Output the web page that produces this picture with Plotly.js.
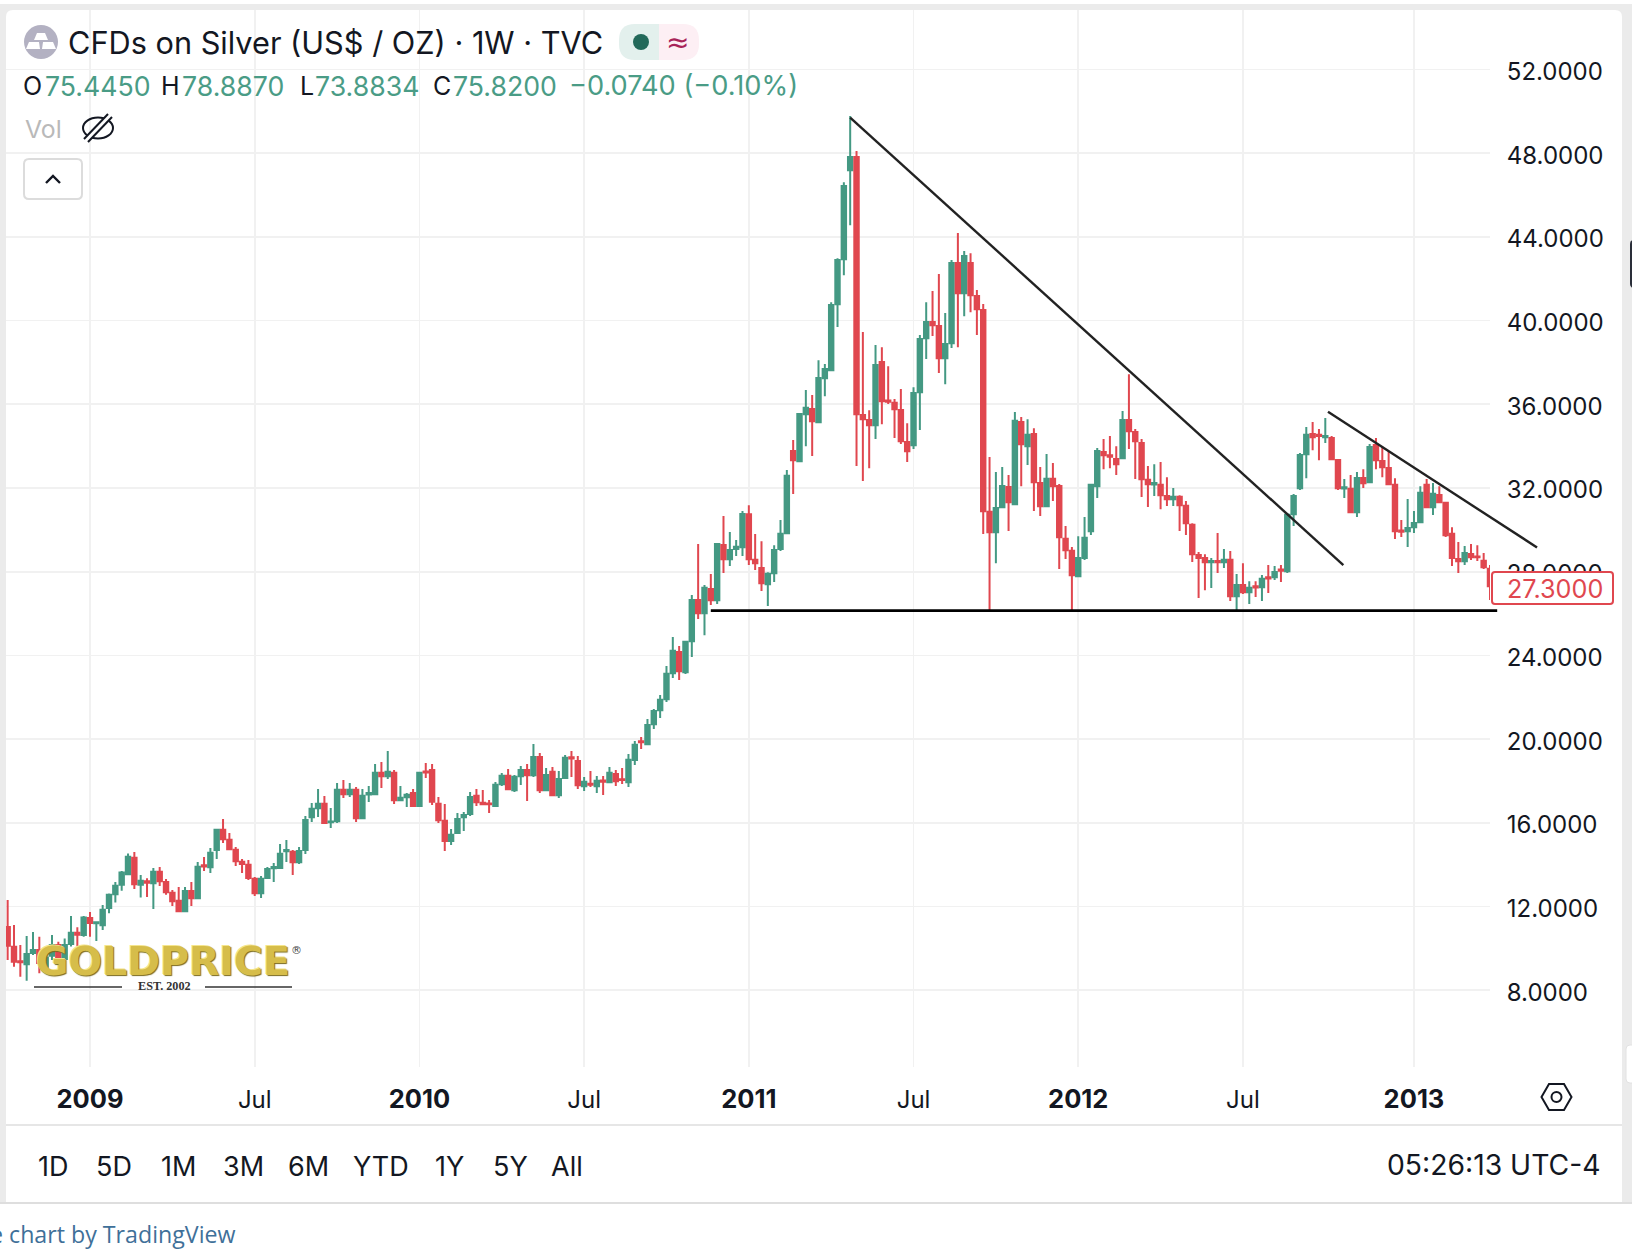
<!DOCTYPE html>
<html>
<head>
<meta charset="utf-8">
<title>CFDs on Silver</title>
<script src="https://cdn.plot.ly/plotly-3.0.1.min.js"></script>
<style>html,body{margin:0;padding:0;background:#fff;overflow:hidden}#chart{width:1632px;height:1260px}</style>
</head>
<body>
<div id="chart"></div>
<script>
// Weekly candles, first week starting 2008-10-06
const firstWeek = '2008-10-06';
const open = [
11.03,10.08,9.39,9.25,9.78,9.92,9.09,9.65,10.17,9.49,
10.21,10.75,10.64,11.45,11.20,11.11,11.93,12.59,13.04,13.55,
14.33,13.04,13.21,13.12,13.66,13.18,12.66,12.28,11.78,12.75,
12.40,13.97,13.88,14.70,15.67,15.19,14.71,14.14,14.00,13.33,
12.64,13.36,13.83,13.84,14.64,14.62,14.12,14.70,16.27,16.70,
16.91,16.03,16.08,17.58,17.37,17.58,16.22,17.36,17.37,18.39,
18.23,18.39,17.08,17.23,17.43,16.80,
18.46,18.53,16.91,16.10,15.13,15.51,16.27,16.42,17.29,16.96,
16.93,16.80,17.85,18.25,17.56,18.23,18.53,18.28,19.15,17.56,
18.44,17.32,18.14,19.13,18.96,17.75,17.87,17.75,18.02,17.94,
18.34,18.08,17.94,19.00,19.90,19.76,20.71,21.38,21.91,23.15,
24.17,23.20,24.68,26.65,26.02,27.18,26.64,29.28,28.60,29.08,
29.17,30.75,28.57,28.18,27.40,27.93,29.08,29.84,33.77,33.28,
35.52,35.78,35.14,37.24,37.63,40.78,42.93,47.18,47.82,35.49,
35.25,35.00,38.02,36.18,36.07,35.73,34.20,34.04,36.58,39.15,
39.93,39.74,38.20,38.92,42.75,41.30,42.75,41.18,40.51,30.86,
29.89,31.08,32.05,31.22,35.16,34.00,34.58,32.24,31.13,32.44,
32.10,29.57,29.00,27.78,28.65,29.93,32.08,33.72,33.56,33.39,
33.42,35.25,34.68,34.15,32.39,32.17,32.15,31.62,31.46,31.58,
31.15,30.24,28.80,28.66,28.45,28.51,28.45,28.57,26.83,27.37,
27.02,27.30,27.26,27.73,27.74,28.11,28.02,30.75,31.99,33.61,
34.58,34.54,34.42,34.39,33.34,31.98,31.96,30.84,32.48,32.28,
34.06,33.29,32.96,32.15,29.97,29.93,30.13,30.36,32.15,31.08,
31.67,31.29,29.81,28.61,28.50,28.85,28.73,28.52,28.14];
const high = [
12.32,11.12,10.17,10.60,10.79,10.56,9.77,10.64,10.32,10.48,
11.55,11.01,11.55,11.74,11.27,12.08,12.63,13.18,13.70,14.54,
14.61,13.51,13.35,13.84,13.89,13.32,12.79,12.94,12.94,13.18,
14.13,14.37,14.80,15.71,16.18,15.52,14.85,14.27,14.23,13.41,
13.46,13.89,14.08,14.99,15.18,14.70,14.85,16.33,16.95,17.62,
17.28,16.71,17.90,18.05,17.90,17.71,17.62,17.76,18.81,18.91,
19.43,18.53,17.76,17.43,17.62,18.43,
18.86,18.81,17.24,16.90,15.71,16.47,16.52,17.47,17.62,17.57,
17.09,17.95,18.38,18.57,18.29,18.72,18.81,19.77,19.34,18.62,
18.67,18.48,19.24,19.43,19.19,18.19,18.48,18.24,18.24,18.67,
18.53,18.62,19.29,19.91,20.10,20.96,21.44,22.11,23.49,24.88,
24.45,24.69,26.89,29.32,27.36,27.89,29.37,30.66,29.90,29.51,
30.90,31.18,29.80,29.46,27.98,29.27,30.47,32.86,34.29,35.58,
36.68,36.44,38.11,37.92,40.88,42.98,46.61,49.77,48.10,39.45,
35.72,38.83,38.73,37.82,36.25,36.73,35.10,36.82,39.31,40.88,
41.41,42.22,40.36,42.89,44.18,43.32,43.22,41.46,40.79,33.48,
32.76,33.00,32.62,35.63,35.39,35.29,34.86,33.00,33.62,33.19,
32.19,30.18,29.18,29.70,30.61,32.19,33.91,34.34,34.48,34.00,
35.68,37.44,34.82,34.34,33.05,33.14,33.24,32.52,32.00,31.66,
31.38,30.32,28.94,28.84,28.65,29.85,29.08,28.99,27.89,28.41,
27.55,27.55,27.84,28.32,28.27,28.32,30.80,31.71,33.67,34.91,
35.15,34.82,35.34,34.48,33.36,32.43,32.62,32.76,32.90,34.10,
34.39,33.97,33.76,32.47,30.47,31.47,30.90,32.09,32.43,32.24,
32.09,31.33,30.13,29.42,29.23,29.32,29.27,28.89,28.32];
const low = [
9.45,9.13,8.65,8.46,9.69,8.81,8.97,9.45,9.37,9.37,
10.09,10.12,10.56,10.56,10.36,10.88,11.68,12.19,12.76,13.51,
12.84,12.43,12.46,11.89,12.98,12.57,12.03,11.74,11.74,12.03,
12.36,13.70,13.61,14.27,15.04,14.70,13.94,13.61,13.27,12.51,
12.41,13.32,13.18,13.80,14.13,13.51,14.04,14.51,16.04,16.28,
15.95,15.75,15.99,17.19,17.24,16.04,16.18,17.00,17.33,17.67,
18.10,16.90,17.04,16.76,16.76,16.76,
18.14,16.85,15.99,14.66,14.94,15.47,15.61,16.33,16.81,16.85,
16.47,16.76,17.76,17.57,17.47,17.81,17.04,18.19,17.43,17.52,
17.28,17.19,18.10,18.19,17.62,17.52,17.71,17.43,17.33,17.90,
17.76,17.86,17.71,18.76,19.53,19.72,20.48,21.01,21.77,22.92,
22.83,23.11,23.92,25.74,24.97,26.41,26.46,27.94,28.27,28.75,
28.75,28.32,28.08,27.08,26.36,27.51,28.99,29.80,31.71,33.24,
34.00,33.53,35.10,36.39,37.59,39.69,42.17,44.56,33.05,32.33,
32.95,34.34,35.05,36.01,34.39,34.10,33.24,33.86,34.77,38.16,
39.26,37.49,36.96,38.69,38.73,40.21,40.40,39.31,29.80,26.15,
28.41,31.04,29.94,31.18,32.09,33.10,30.90,30.66,31.09,31.38,
28.13,28.61,26.15,27.75,28.56,29.75,31.52,32.90,32.95,32.62,
33.38,33.86,32.43,31.57,31.09,31.62,30.99,31.14,31.14,29.94,
29.75,28.46,26.74,27.12,27.22,27.94,28.18,26.60,26.17,26.93,
26.46,26.79,26.60,26.98,27.60,27.51,27.94,30.18,31.90,32.47,
33.81,33.33,34.15,33.33,31.90,31.52,30.80,30.61,32.00,32.24,
32.90,32.52,32.14,29.56,29.66,29.18,29.85,30.32,31.04,30.71,
31.28,29.66,28.27,27.94,28.32,28.56,28.51,28.13,26.65];
const close = [
10.13,9.36,9.34,9.73,9.92,9.30,9.57,10.17,9.57,10.17,
10.75,10.65,11.48,11.21,11.25,11.85,12.56,12.99,13.63,14.38,
13.07,13.23,13.14,13.66,13.21,12.69,12.26,11.78,12.75,12.40,
13.90,13.92,14.57,15.67,15.22,14.74,14.17,14.03,13.36,12.64,
13.33,13.80,13.89,14.52,14.70,14.12,14.66,16.14,16.67,16.91,
15.99,16.07,17.58,17.37,17.58,16.22,17.29,17.43,18.39,18.23,
18.44,17.08,17.20,17.34,16.80,18.39,
18.41,17.01,16.13,15.13,15.43,16.19,16.38,17.24,16.99,16.89,
16.89,17.82,18.25,17.61,18.20,18.53,18.28,19.15,17.56,18.29,
17.32,18.10,19.11,19.08,17.80,17.96,17.82,18.01,17.97,18.39,
17.99,18.05,19.01,19.73,19.85,20.68,21.35,21.88,23.12,24.22,
23.25,24.65,26.65,26.02,27.23,26.64,29.33,28.60,29.04,29.19,
30.76,28.60,28.41,27.45,27.90,29.04,29.81,32.58,33.33,35.54,
35.83,35.19,37.26,37.69,40.75,42.90,46.43,47.82,35.52,35.29,
35.00,37.88,36.14,36.12,35.76,34.23,33.76,36.54,39.12,39.93,
39.78,38.20,38.88,42.75,41.30,43.09,41.21,40.54,30.89,29.89,
31.05,32.10,31.32,35.21,34.09,34.54,32.28,31.13,32.44,32.08,
29.65,29.03,27.83,28.66,29.62,32.15,33.77,33.57,33.49,33.14,
35.25,34.71,34.23,32.42,32.18,32.24,31.65,31.46,31.58,31.18,
30.32,28.84,28.65,28.45,28.51,28.45,28.57,26.83,27.37,27.02,
27.23,27.25,27.66,27.68,27.99,28.05,30.72,31.62,33.58,34.54,
34.43,34.48,34.48,33.37,31.99,32.04,30.84,32.48,32.23,33.96,
33.33,32.99,32.18,29.93,29.91,30.09,30.33,31.77,31.08,31.72,
31.32,29.74,28.65,28.50,28.90,28.69,28.69,28.21,27.30];

// Drawn trend lines
const mainTrendX = ['2011-04-25','2012-10-21'];
const mainTrendY = [49.70,28.32];
const lateTrendX = ['2012-10-04','2013-05-23'];
const lateTrendY = [35.64,29.16];
const supportX = ['2010-11-22','2013-04-09'];
const supportY = [26.14,26.14];

// Axis ticks
const dateTicks = ['2009-01-05','2009-07-06','2010-01-04','2010-07-05','2011-01-03','2011-07-04','2012-01-02','2012-07-02','2013-01-07'];
const yearStyle = t => '<span style="font-size:25.5px"><b>' + t + '</b></span>';
const dateLabels = [yearStyle('2009'),'Jul',yearStyle('2010'),'Jul',yearStyle('2011'),'Jul',yearStyle('2012'),'Jul',yearStyle('2013')];
const priceTicks = [8,12,16,20,24,28,32,36,40,44,48,52];

// Header and footer text
const rangeButtons = ['1D','5D','1M','3M','6M','YTD','1Y','5Y','All'];
const rangeButtonX = [53,114,178,243,308,381,450,510,567];

const GREEN = '#449983', RED = '#e0474f', INK = '#131722', TEXTG = '#4a9c86';
const weeks = [];
const start = Date.parse(firstWeek + 'T00:00:00Z');
for (let k = 0; k < open.length; k++) weeks.push(new Date(start + k * 7 * 864e5).toISOString().slice(0, 10));

// Pixel to paper helpers. Candles end at 1490; drawings may run on to 1540.
const L = 6, R = 1490, OUT = 1540, T = 10, B = 1067;
const X = p => (p - L) / (OUT - L);
const Y = p => (B - p) / (B - T);
const rr = (x0, y0, x1, y1, r) => {
  const P = (a, b) => X(a) + ',' + Y(b);
  return 'M' + P(x0 + r, y0) + ' L' + P(x1 - r, y0) + ' Q' + P(x1, y0) + ' ' + P(x1, y0 + r) +
    ' L' + P(x1, y1 - r) + ' Q' + P(x1, y1) + ' ' + P(x1 - r, y1) + ' L' + P(x0 + r, y1) +
    ' Q' + P(x0, y1) + ' ' + P(x0, y1 - r) + ' L' + P(x0, y0 + r) + ' Q' + P(x0, y0) + ' ' + P(x0 + r, y0) + ' Z';
};
const poly = pts => 'M' + pts.map(q => X(q[0]) + ',' + Y(q[1])).join(' L');
const base = {xref: 'paper', yref: 'paper', layer: 'above'};
const rect = (x0, y0, x1, y1, fill) => Object.assign({}, base, {type: 'rect', x0: X(x0), x1: X(x1), y0: Y(y1), y1: Y(y0), fillcolor: fill, line: {width: 0}});
const circ = (cx, cy, rx, ry, fill, stroke, w) => Object.assign({}, base, {type: 'circle', x0: X(cx - rx), x1: X(cx + rx), y0: Y(cy + ry), y1: Y(cy - ry), fillcolor: fill, line: {color: stroke || fill, width: w || 0}});
const path = (d, fill, stroke, w) => Object.assign({}, base, {type: 'path', path: d, fillcolor: fill || 'rgba(0,0,0,0)', line: {color: stroke || 'rgba(0,0,0,0)', width: w || 0}});
const seg = (x0, y0, x1, y1, c, w) => Object.assign({}, base, {type: 'line', x0: X(x0), x1: X(x1), y0: Y(y0), y1: Y(y1), line: {color: c, width: w}});
const corner = (cx, cy, dx, dy) => path('M' + X(cx) + ',' + Y(cy) + ' L' + X(cx + dx) + ',' + Y(cy) + ' Q' + X(cx) + ',' + Y(cy) + ' ' + X(cx) + ',' + Y(cy + dy) + ' Z', '#ebebeb');

const shapes = [
  // outer frame
  rect(0, 4, 1632, 10, '#ebebeb'), rect(0, 4, 6, 1203, '#ebebeb'), rect(1622, 4, 1632, 1203, '#ebebeb'),
  corner(6, 10, 7, 7), corner(1622, 10, -7, 7),
  seg(6, 1125, 1622, 1125, '#e6e6e6', 2), seg(0, 1203, 1632, 1203, '#dedede', 2),
  path(rr(1626, 1045, 1636, 1083, 4), '#ffffff', '#e2e2e2', 1),
  path(rr(1630, 240, 1640, 288, 4), '#2a2e39'),
  // symbol icon
  circ(41, 42, 17, 17, '#b3b1c2'),
  path(poly([[37, 33], [45, 33], [48, 40], [34, 40]]) + ' Z', '#ffffff'),
  path(poly([[29, 42], [39, 42], [40, 49], [26, 49]]) + ' Z', '#ffffff'),
  path(poly([[43, 42], [53, 42], [56, 49], [42, 49]]) + ' Z', '#ffffff'),
  // status pill
  path(rr(619, 24, 670, 60, 16), '#e3f0ed'), path(rr(650, 24, 699, 60, 16), '#fdeff4'),
  rect(659, 24, 668, 60, '#fdeff4'), rect(635, 24, 659, 60, '#e3f0ed'),
  circ(641, 42, 8, 8, '#22695a'),
  // hidden volume eye
  circ(98, 128, 15, 10.5, 'rgba(0,0,0,0)', INK, 2),
  seg(85, 141, 110, 116, '#ffffff', 5), seg(84, 139, 108, 114, INK, 2), seg(88, 142, 112, 117, INK, 2),
  // collapse button
  path(rr(24, 159, 82, 199, 5), '#ffffff', '#dcdcdc', 2),
  path(poly([[46, 183], [53, 176], [60, 183]]), null, INK, 2.4),
  // logo rules
  seg(34, 987, 122, 987, '#333333', 1.6), seg(205, 987, 292, 987, '#333333', 1.6),
  // last price box
  path(rr(1492, 572, 1613, 604, 3), '#ffffff', RED, 2),
  // settings hexagon
  path(poly([[1541.5, 1097], [1549, 1084], [1564, 1084], [1571.5, 1097], [1564, 1110], [1549, 1110]]) + ' Z', null, INK, 2),
  circ(1556.5, 1097, 5, 5, 'rgba(0,0,0,0)', INK, 2)
];

const note = (text, x, y, opts) => Object.assign({
  text, x: X(x), y: Y(y), xref: 'paper', yref: 'paper', showarrow: false, borderpad: 0, borderwidth: 0,
  xanchor: 'left', yanchor: 'middle', align: 'left', font: {family: 'Inter', size: 25, color: INK}
}, opts || {});
const sized = (size, color, family) => ({font: {family: family || 'Inter', size, color}});

const annotations = [
  note('CFDs on Silver (US$ / OZ) · 1W · TVC', 67.7, 42.5, sized(30.7, INK)),
  note('O', 23, 86, sized(25, INK)), note('75.4450', 44.8, 86, sized(26.7, TEXTG)),
  note('H', 161.4, 86, sized(25, INK)), note('78.8870', 182.2, 86, sized(26.7, TEXTG)),
  note('L', 299.8, 86, sized(25, INK)), note('73.8834', 315.4, 86, sized(26.7, TEXTG)),
  note('C', 433, 86, sized(25, INK)), note('75.8200', 452.8, 86, sized(26.7, TEXTG)),
  note('−0.0740 (−0.10%)', 568.5, 86, sized(27.2, TEXTG)),
  note('Vol', 24.5, 129, sized(24.8, '#b9b9b9')),
  note('≈', 677, 42, Object.assign(sized(28, '#a82358', 'DejaVu Sans'), {xanchor: 'center'})),
  note('GOLDPRICE', 163, 961, {xanchor: 'center', font: {family: 'DejaVu Sans', size: 39.5, color: '#d6bd4a', weight: 700, shadow: '1px 1px 1px #7a6a1c, -1px -1px 0 #f4e58c'}}),
  note('®', 291, 950, sized(11, '#444444', 'DejaVu Sans')),
  note('EST. 2002', 164, 986, {xanchor: 'center', font: {family: 'Liberation Serif', size: 12.2, color: '#333333', weight: 700}}),
  note('27.3000', 1507, 589, sized(25.2, RED)),
  note('05:26:13 UTC-4', 1601, 1165, Object.assign(sized(28.3, INK), {xanchor: 'right'})),
  note('e chart by TradingView', 236.3, 1234, Object.assign(sized(23.2, '#3f7099', 'Open Sans'), {xanchor: 'right'}))
].concat(rangeButtons.map((t, k) => note(t, rangeButtonX[k], 1166, Object.assign(sized(27, INK), {xanchor: 'center'}))));

const trend = (x, y, color, width) => ({
  type: 'scatter', mode: 'lines', x, y, xaxis: 'x2', yaxis: 'y2', hoverinfo: 'skip', showlegend: false,
  line: {color, width}
});

const data = [
  {
    type: 'candlestick', x: weeks, open, high, low, close, showlegend: false, whiskerwidth: 0,
    increasing: {line: {color: GREEN, width: 2}, fillcolor: GREEN},
    decreasing: {line: {color: RED, width: 2}, fillcolor: RED}
  },
  trend(mainTrendX, mainTrendY, '#222222', 2.4),
  trend(lateTrendX, lateTrendY, '#222222', 2.4),
  trend(supportX, supportY, '#000000', 2.8)
];

const priceRange = [4.335, 54.84];
const layout = {
  width: 1632, height: 1260,
  margin: {l: L, r: 1632 - OUT, t: T, b: 1260 - B, autoexpand: false},
  paper_bgcolor: '#ffffff', plot_bgcolor: 'rgba(0,0,0,0)',
  showlegend: false, hovermode: false, boxgap: 0.3, boxgroupgap: 0,
  font: {family: 'Inter', color: INK, size: 24},
  xaxis: {
    type: 'date', domain: [0, (R - L) / (OUT - L)], range: ['2008-10-04 04:00', '2013-04-01'], rangeslider: {visible: false},
    tickmode: 'array', tickvals: dateTicks, ticktext: dateLabels,
    showgrid: true, gridcolor: '#f1f1f1', gridwidth: 1.6, zeroline: false, showline: false,
    ticks: 'outside', ticklen: 11, tickcolor: 'rgba(0,0,0,0)', tickfont: {family: 'Inter', size: 24, color: INK}
  },
  yaxis: {
    side: 'right', range: priceRange, tickmode: 'array', tickvals: priceTicks, tickformat: '.4f', ticklabelshift: 2,
    showgrid: true, gridcolor: '#f1f1f1', gridwidth: 1.6, zeroline: false, showline: false,
    ticks: 'outside', ticklen: 11, tickcolor: 'rgba(0,0,0,0)', tickfont: {family: 'Inter', size: 24, color: INK}
  },
  xaxis2: {type: 'date', domain: [0, 1], range: ['2008-10-04 04:00', '2013-05-26 07:00'], anchor: 'y2', visible: false, showgrid: false, zeroline: false},
  yaxis2: {range: priceRange, anchor: 'x2', visible: false, showgrid: false, zeroline: false},
  shapes, annotations
};
Plotly.newPlot('chart', data, layout, {displayModeBar: false, staticPlot: true});
</script>
</body>
</html>
